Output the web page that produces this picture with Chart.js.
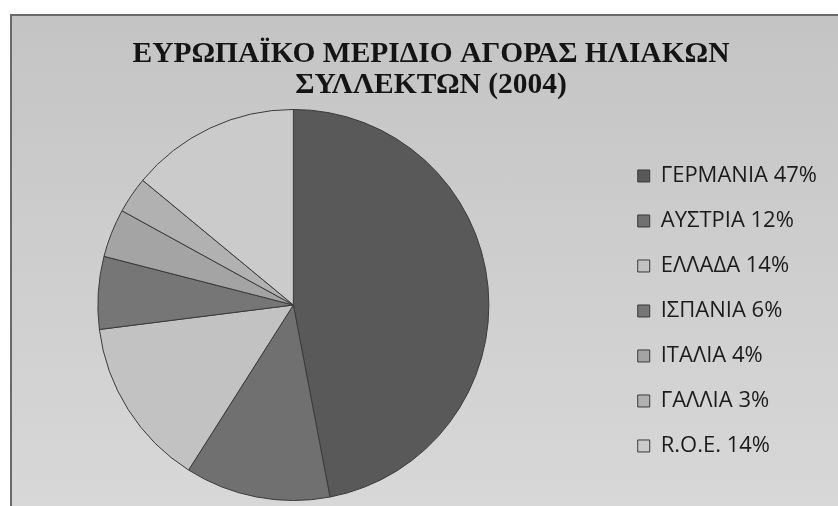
<!DOCTYPE html>
<html>
<head>
<meta charset="utf-8">
<script src="https://cdn.jsdelivr.net/npm/chart.js@4.4.1/dist/chart.umd.min.js"></script>
<style>
  html, body { margin: 0; padding: 0; background: #fff; }
  #wrap { position: relative; width: 838px; height: 506px; overflow: hidden; }
  #panel {
    position: absolute; left: 10px; top: 14px; width: 840px; height: 500px;
    border-top: 2px solid #6a6a6a; border-left: 2px solid #6a6a6a;
    background: linear-gradient(to bottom, #c4c4c4, #d8d8d8);
  }
  #goldChart { position: absolute; left: 0; top: 0; }
</style>
</head>
<body>
<div id="wrap">
  <div id="panel"></div>
  <canvas id="goldChart" width="838" height="506"></canvas>
</div>
<script>
// market share per country, 2004
const countries = ['ΓΕΡΜΑΝΙΑ', 'ΑΥΣΤΡΙΑ', 'ΕΛΛΑΔΑ', 'ΙΣΠΑΝΙΑ', 'ΙΤΑΛΙΑ', 'ΓΑΛΛΙΑ', 'R.O.E.'];
const shares = [47, 12, 14, 6, 4, 3, 14];
const sliceColors = ['#595959', '#707070', '#c2c2c2', '#767676', '#a4a4a4', '#b1b1b1', '#cbcbcb'];
const titleLines = ['ΕΥΡΩΠΑΪΚΟ ΜΕΡΙΔΙΟ ΑΓΟΡΑΣ ΗΛΙΑΚΩΝ', 'ΣΥΛΛΕΚΤΩΝ (2004)'];

let labels = countries.map((c, i) => c + ' ' + shares[i] + '%');

// empty box between the pie and the legend
const legendGap = {
  id: 'legendGap',
  beforeInit(chart) {
    Chart.layouts.addBox(chart, {
      position: 'right', weight: 0, fullSize: false, options: {},
      left: 0, top: 0, right: 0, bottom: 0, width: 0, height: 0,
      update(maxWidth, maxHeight) { this.width = 63; this.height = maxHeight; },
      isHorizontal() { return false; },
      draw() {}
    });
  }
};

var ctx = document.getElementById('goldChart');
var pie = new Chart(ctx, {
  type: 'pie',
  data: {
    labels: labels,
    datasets: [{
      data: shares,
      backgroundColor: sliceColors,
      borderColor: '#3a3a3a',
      borderWidth: 1,
      hoverOffset: 0
    }]
  },
  plugins: [legendGap],
  options: {
    responsive: false,
    animation: false,
    layout: { padding: { left: 35, right: 11, top: 14, bottom: 5 } },
    plugins: {
      title: {
        display: true,
        text: titleLines,
        color: '#141414',
        font: { family: 'Liberation Serif', size: 29.5, weight: 'bold', lineHeight: 1.05 },
        padding: { top: 25, bottom: 8 }
      },
      legend: {
        position: 'right',
        fullSize: false,
        maxWidth: 300,
        title: { display: true, text: '', font: { size: 8, lineHeight: 1.5 }, padding: 0 },
        labels: {
          color: '#1c1c1c',
          font: { family: 'Open Sans', size: 22 },
          boxWidth: 12,
          boxHeight: 12,
          padding: 23
        }
      },
      tooltip: { enabled: false }
    }
  }
});
</script>
</body>
</html>
